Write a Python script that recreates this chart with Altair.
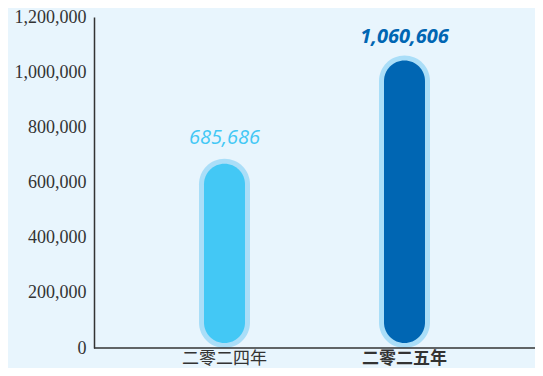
import altair as alt
import pandas as pd

years = ["二零二四年", "二零二五年"]
values = [685686, 1060606]
labels = ["685,686", "1,060,606"]
fills = ["#43C8F5", "#0066B3"]

df = pd.DataFrame({"year": years, "value": values, "label": labels, "fill": fills})

BG = "#E8F5FD"
HALO = "#AADEF8"
H = 331

x = alt.X(
    "year:N",
    sort=years,
    scale=alt.Scale(paddingInner=0.55, paddingOuter=0.5),
    axis=alt.Axis(
        title=None,
        domain=False,
        ticks=False,
        labelAngle=0,
        labelFont="Noto Sans CJK TC",
        labelFontSize=17,
        labelColor="#333333",
        labelPadding=2,
        labelFontWeight=alt.ExprRef("datum.value == '二零二五年' ? 'bold' : 'normal'"),
    ),
)
y = alt.Y(
    "value:Q",
    scale=alt.Scale(domain=[0, 1200000]),
    axis=alt.Axis(
        title=None,
        values=[0, 200000, 400000, 600000, 800000, 1000000, 1200000],
        format=",d",
        grid=False,
        ticks=False,
        domainColor="#333333",
        domainWidth=1.5,
        labelFont="Liberation Serif",
        labelFontSize=18,
        labelColor="#333333",
        labelPadding=8,
    ),
)

base = alt.Chart(df)

halo = base.mark_bar(size=51, cornerRadius=25.5, color=HALO).encode(x=x, y=y, y2=alt.datum(0))
inner = base.mark_bar(size=41, cornerRadius=20.5, yOffset=5, y2Offset=-5).encode(
    x=x, y=y, y2=alt.datum(0), color=alt.Color("fill:N", scale=None)
)

t1 = base.transform_filter(alt.datum.year == years[0]).mark_text(
    font="Open Sans", fontSize=20, fontStyle="italic", color=fills[0],
    baseline="alphabetic", dy=-15
).encode(x=x, y=y, text="label:N")
t2 = base.transform_filter(alt.datum.year == years[1]).mark_text(
    font="Open Sans", fontSize=20, fontStyle="italic", fontWeight="bold", color=fills[1],
    baseline="alphabetic", dy=-12
).encode(x=x, y=y, text="label:N")

xline = alt.Chart(pd.DataFrame({"v": [0]})).mark_rule(color="#333333", strokeWidth=1.5).encode(
    x=alt.value(0), x2=alt.value(449), y=alt.value(H)
)

chart = alt.layer(halo, inner, t1, t2, xline).properties(
    width=441,
    height=H,
    background=BG,
    padding={"left": 86, "top": 9, "right": 0, "bottom": 20},
    autosize=alt.AutoSizeParams(type="none"),
).configure_view(stroke=None, fill=BG)

chart.save("out.html", embed_options={"renderer": "svg", "actions": False})
